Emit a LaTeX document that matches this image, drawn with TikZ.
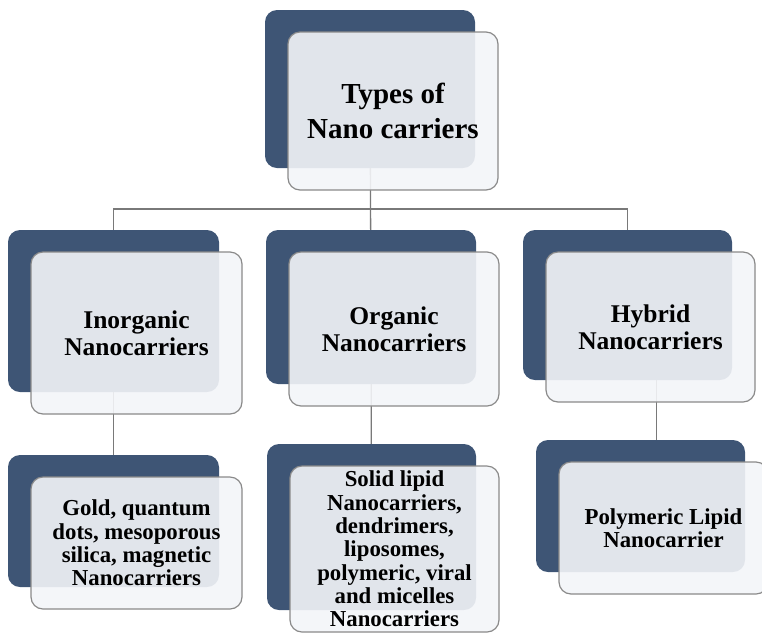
\documentclass[tikz,border=0pt]{standalone}
\usepackage{fontspec}
\setmainfont{Liberation Serif}
\usetikzlibrary{backgrounds}
\definecolor{tiefblau}{HTML}{3E5575}
\definecolor{hellgrau}{HTML}{F3F5F8}
\definecolor{randgrau}{HTML}{8A8A8A}
\def\dx{23}
\def\dy{22}
\def\gross{\fontsize{29}{35}\selectfont}
\def\mittel{\fontsize{25.5}{27}\selectfont}
\def\klein{\fontsize{22.8}{23.3}\selectfont}
% dunkle Karte hinten, helle Karte mit Text vorne
\def\karte#1#2#3#4#5#6#7{
\node[dunkel, minimum width=#4pt, minimum height=#5pt] (#1-d)
	at ({#2+#4/2},{#3+#5/2}) {};
\node[karte, minimum width=#4pt, minimum height=#5pt, font=\bfseries#6] (#1)
	at ({#2+\dx+#4/2},{#3+\dy+#5/2}) {#7};
}
\tikzset{
 dunkel/.style={fill=tiefblau, rounded corners=12pt, inner sep=0pt},
 karte/.style={draw=randgrau, line width=1.2pt, fill=hellgrau,
	fill opacity=0.9, text opacity=1, rounded corners=12pt,
	inner sep=0pt, align=center},
 linie/.style={draw=gray!95!black, line width=1.3pt}
}
\begin{document}
\begin{tikzpicture}[x=1pt,y=-1pt]
\useasboundingbox (0,0) rectangle (762,633);
\clip (0,0) rectangle (762,633);
\karte{typ}{265}{10}{210}{158}{\gross}{Types of\\Nano carriers}
\karte{anorg}{8}{230}{211}{162}{\mittel}{Inorganic\\Nanocarriers}
\karte{org}{266}{230}{210}{154}{\mittel}{Organic\\Nanocarriers}
\karte{hybrid}{523}{230}{209}{150}{\mittel}{Hybrid\\Nanocarriers}
\karte{gold}{8}{455}{211}{132}{\klein}{Gold, quantum\\dots, mesoporous\\silica, magnetic\\Nanocarriers}
\karte{solid}{267}{444}{209}{166}{\klein}{Solid lipid\\Nanocarriers,\\dendrimers,\\liposomes,\\polymeric, viral\\and micelles\\Nanocarriers}
\karte{poly}{536}{440}{209}{132}{\klein}{Polymeric Lipid\\Nanocarrier}
\coordinate (bus) at (371,209);
\begin{pgfonlayer}{background}
\draw[linie] (typ-d) -- (org-d);
\draw[linie] (anorg-d) |- (bus) -| (hybrid-d);
\draw[linie] (anorg-d) -- (gold-d);
\draw[linie] (org-d) -- (solid-d);
\draw[linie] ([xshift=6pt]hybrid.center) -- ([xshift=6pt]hybrid.center |- poly-d.center);
\end{pgfonlayer}
\end{tikzpicture}
\end{document}
